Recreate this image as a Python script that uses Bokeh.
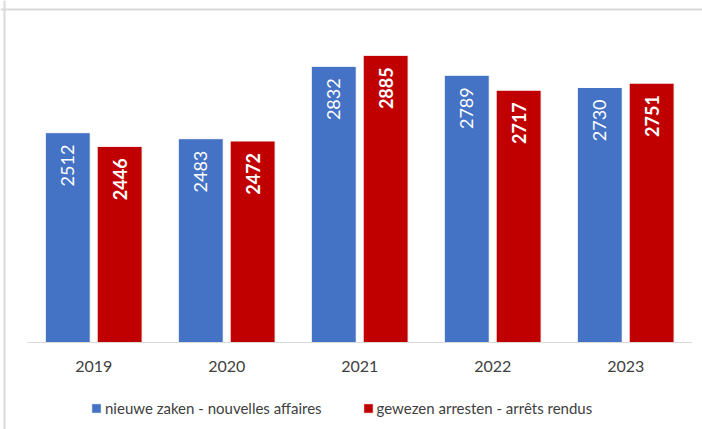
import math
from bokeh.plotting import figure
from bokeh.models import ColumnDataSource, Range1d, LabelSet, Legend, LegendItem, Span
from bokeh.core.properties import value
from bokeh.transform import dodge
from bokeh.embed import file_html
from bokeh.resources import INLINE

years = ["2019", "2020", "2021", "2022", "2023"]
new_cases = [2512, 2483, 2832, 2789, 2730]
judgments = [2446, 2472, 2885, 2717, 2751]
series_names = ["nieuwe zaken - nouvelles affaires", "gewezen arresten - arrêts rendus"]

BLUE = "#4472C4"
RED = "#C00000"
FONT = "Lato"
AXIS_MIN, AXIS_MAX = 1500, 3000

# layout (pixels on the canvas)
W, H = 702, 429
PITCH = 133.0        # px per category
FIRST_C = 93.2       # px centre of first category
BASE_PX = 342.0      # px of AXIS_MIN
TOP_PX = 31.0        # px of AXIS_MAX

ppu = (BASE_PX - TOP_PX) / (AXIS_MAX - AXIS_MIN)
x_start = -FIRST_C / PITCH
x_end = x_start + W / PITCH
y_end = AXIS_MAX + TOP_PX / ppu
y_start = AXIS_MIN - (H - BASE_PX) / ppu

idx = list(range(len(years)))
src = ColumnDataSource(dict(
    idx=idx, years=years, new=new_cases, judg=judgments,
    new_txt=[str(v) for v in new_cases], judg_txt=[str(v) for v in judgments],
))

p = figure(x_range=Range1d(x_start, x_end), y_range=Range1d(y_start, y_end),
           width=W, height=H, output_backend="svg", toolbar_location=None,
           min_border=0, min_border_top=0, min_border_left=0, min_border_right=0, min_border_bottom=0)
p.outline_line_color = None
p.background_fill_color = "white"
p.border_fill_color = "white"
p.grid.visible = False
p.axis.visible = False

# chart border (top and left, as in the reference)
p.add_layout(Span(location=x_start + 4 / PITCH, dimension="height", line_color="#D9D9D9", line_width=2))
p.add_layout(Span(location=y_end - 9 / ppu, dimension="width", line_color="#D9D9D9", line_width=2))

off = 0.195
bw = 0.338
r1 = p.vbar(x=dodge("idx", -off), top="new", bottom=AXIS_MIN, width=bw, source=src,
            fill_color=BLUE, line_color="white", line_width=1)
r2 = p.vbar(x=dodge("idx", off), top="judg", bottom=AXIS_MIN, width=bw, source=src,
            fill_color=RED, line_color="white", line_width=1)

# baseline
p.segment(x0=-0.5, x1=len(years) - 0.5, y0=AXIS_MIN, y1=AXIS_MIN, line_color="#D9D9D9", line_width=1)

l1 = LabelSet(x=dodge("idx", -off), y="new", text="new_txt", source=src,
              angle=math.pi / 2, text_align="right", text_baseline="middle", y_offset=-12,
              text_color="white", text_font=value(FONT), text_font_size="18px")
l2 = LabelSet(x=dodge("idx", off), y="judg", text="judg_txt", source=src,
              angle=math.pi / 2, text_align="right", text_baseline="middle", y_offset=-12,
              text_color="white", text_font=value(FONT), text_font_size="18px", text_font_style="bold")
p.add_layout(l1)
p.add_layout(l2)

# category labels
p.text(x="idx", y=AXIS_MIN, text="years", source=src, y_offset=24,
       text_align="center", text_baseline="middle", text_color="#404040",
       text_font=value(FONT), text_font_size="16px")

legend = Legend(items=[LegendItem(label=series_names[0], renderers=[r1]),
                       LegendItem(label=series_names[1], renderers=[r2])],
                orientation="horizontal", location=(90, 12),
                glyph_width=12, glyph_height=12, label_standoff=3, spacing=40,
                label_text_font=FONT, label_text_font_size="15px", label_text_color="#404040",
                border_line_color=None, background_fill_alpha=0, padding=0, margin=0)
p.add_layout(legend)

open("out.html", "w").write(file_html(p, INLINE))
